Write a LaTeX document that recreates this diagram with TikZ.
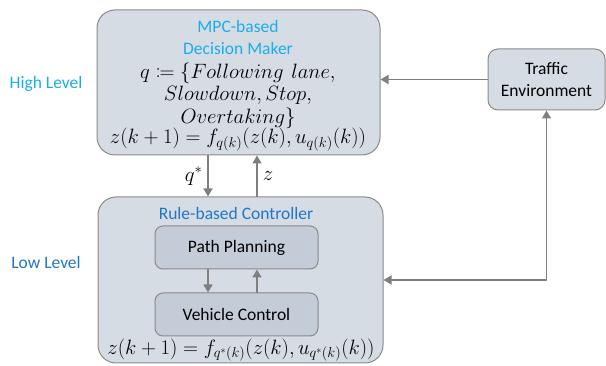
\documentclass[tikz,border=0pt]{standalone}
\usepackage{mathtools}
\usepackage{fontspec}
\setmainfont{Carlito}
\usetikzlibrary{arrows.meta,positioning}
\definecolor{boxfill}{HTML}{D6DCE4}
\definecolor{innerfill}{HTML}{C4CCD7}
\definecolor{boxgray}{HTML}{8A8A8A}
\definecolor{linkgray}{HTML}{7F7F7F}
\definecolor{highblue}{HTML}{1AADEB}
\definecolor{lowblue}{HTML}{1F77C6}
\tikzset{
  label text/.style={font=\fontsize{17.5}{22}\selectfont},
  outerbox/.style={draw=boxgray, fill=boxfill, line width=1pt, rounded corners=18pt},
  innerbox/.style={draw=boxgray, fill=innerfill, line width=1pt, rounded corners=8pt,
    minimum width=163pt, minimum height=43pt, label text},
  link/.style={draw=linkgray, line width=1.6pt, -{Triangle[width=9pt,length=8pt]}},
  mathline/.style={font=\fontsize{19.2}{22.6}\selectfont, inner sep=0pt}
}
\begin{document}
\begin{tikzpicture}[line cap=round,line join=round,x=1pt,y=-1pt]
\useasboundingbox (0,0) rectangle (606,366);
% boxes
\node[outerbox, minimum width=283pt, minimum height=145pt] (mpc) at (238.5,82.5) {};
\node[outerbox, minimum width=285pt, minimum height=166pt] (low) at (240.5,280) {};
\node[innerbox] (path) at (236.5,247.5) {Path Planning};
\node[innerbox] (veh) at (236.5,314.5) {Vehicle Control};
\node[outerbox, rounded corners=10pt, minimum width=117pt, minimum height=61pt,
  align=center, label text] (traffic) at (546.5,79.5) {Traffic\\Environment};
% texts of the upper box
\node[align=center, text=highblue, label text, inner sep=0pt] (mpctitle) at (238,37) {MPC-based\\Decision Maker};
\node[mathline, align=center] (modes) at (238,95.5) {$q \coloneqq \{\mathnormal{Following\ \,lane},$\\
  $\mathnormal{Slowdown}, \mathnormal{Stop},$\\ $\mathnormal{Overtaking}\}$};
\node[mathline] (mpcdyn) at (238,139.5) {$z(k+1) = f_{q(k)}(z(k), u_{q(k)}(k))$};
% texts of the lower box
\node[text=lowblue, label text] (lowtitle) at (236,213) {Rule-based Controller};
\node[mathline] (lowdyn) at (241,350) {$z(k+1) = f_{q^*(k)}(z(k), u_{q^*(k)}(k))$};
% levels
\node[text=highblue, label text] (high) at (46,84) {High Level};
\node[text=lowblue, label text] (lowlvl) at (46,262) {Low Level};
% connectors
\draw[link] ([xshift=-30.5pt]mpc.south) -- ([xshift=-30.5pt]mpc.south |- low.north)
  node[midway, left, mathline, xshift=-5pt] {$q^*$};
\draw[link] ([xshift=18.5pt]mpc.south |- low.north) -- ([xshift=18.5pt]mpc.south)
  node[midway, right, mathline, xshift=5pt] {$z$};
\draw[link] ([xshift=-28.5pt]path.south) -- ([xshift=-28.5pt]veh.north);
\draw[link] ([xshift=20.5pt]veh.north) -- ([xshift=20.5pt]path.south);
\draw[link] (traffic.west) -- (traffic.west -| mpc.east);
\coordinate (corner) at (traffic.south |- low.east);
\draw[link, {Triangle[width=9pt,length=8pt]}-{Triangle[width=9pt,length=8pt]}] (low.east) -- (corner) -- (traffic.south);
\end{tikzpicture}
\end{document}
